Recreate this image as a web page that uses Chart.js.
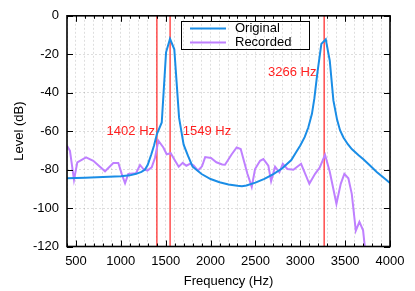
<!DOCTYPE html>
<html>
<head>
<meta charset="utf-8">
<script src="https://cdn.jsdelivr.net/npm/chart.js@4.4.1/dist/chart.umd.min.js"></script>
<style>
  html, body { margin: 0; padding: 0; background: #fff; }
</style>
</head>
<body>
<canvas id="levelChart" width="415" height="291"></canvas>
<script>
// Original spectrum
const origFreq = [400, 600, 800, 1000, 1100, 1170, 1230, 1270, 1300, 1340, 1370, 1402, 1456, 1504, 1548, 1596, 1649, 1700, 1750, 1800, 1900, 2000, 2100, 2200, 2300, 2350, 2400, 2500, 2600, 2700, 2800, 2900, 2960, 3000, 3050, 3090, 3130, 3157, 3190, 3235, 3284, 3329, 3369, 3410, 3443, 3481, 3530, 3574, 3650, 3703, 3780, 3852, 3930, 4000];
const origLevel = [-84.5, -84.2, -83.8, -83.4, -83, -82.2, -81.2, -80, -77.5, -72, -67.5, -61.5, -55.5, -19, -12, -17.4, -53, -67, -73, -78.5, -82.3, -84.9, -86.6, -87.7, -88.4, -88.6, -88.3, -86.8, -84.8, -82.3, -79.3, -75, -70.5, -67.5, -63, -58, -51, -43, -30, -14.6, -12.2, -23.4, -44, -54, -59.5, -63.3, -66.8, -69.3, -72.5, -74.6, -78, -81.2, -84.2, -87];

// Recorded spectrum
const recFreq = [400, 433, 478, 515, 612, 693, 824, 916, 972, 1010, 1047, 1083, 1169, 1214, 1251, 1296, 1344, 1380, 1418, 1474, 1511, 1556, 1600, 1645, 1690, 1730, 1770, 1810, 1860, 1905, 1940, 2005, 2065, 2130, 2161, 2236, 2291, 2336, 2410, 2459, 2496, 2552, 2589, 2644, 2675, 2719, 2767, 2805, 2856, 2923, 3009, 3101, 3165, 3216, 3276, 3328, 3403, 3451, 3491, 3536, 3574, 3619, 3659, 3700, 3728];
const recLevel = [-67.6, -70.2, -85.3, -76.2, -73.6, -75.4, -80.9, -76.6, -76.6, -82.2, -87.1, -82.2, -81.9, -77.6, -79.7, -80.5, -78.8, -74, -65, -68.5, -72, -71.5, -75, -78.5, -76.5, -78, -77, -77.8, -80.5, -78.3, -73.5, -74, -76.2, -77.3, -77.5, -72, -68.5, -69.3, -82, -89, -79.7, -75.4, -74.5, -77.9, -86, -78.5, -81.4, -77, -79.7, -80.1, -77, -87.4, -82.2, -79, -72.3, -81, -97.8, -87.4, -82.2, -84.5, -92.6, -111.8, -107.2, -111.6, -124];

// marker lines and their labels
const markerFreq = [1402, 1549, 3266];
const markerText = ["1402 Hz", "1549 Hz", "3266 Hz"];
const markerLabelX = [1381, 1690, 3180];
const markerLabelY = [-60, -60, -29.6];
const markerAlign = ["right", "left", "right"];

const fontFamily = "'Liberation Sans', Arial, sans-serif";
const tickFont = { family: fontFamily, size: 13 };

const markersPlugin = {
  id: 'markers',
  beforeDatasetsDraw(chart) {
    const { ctx, chartArea, scales } = chart;
    ctx.save();
    ctx.strokeStyle = '#ff2020';
    ctx.lineWidth = 1.2;
    markerFreq.forEach(f => {
      const x = scales.x.getPixelForValue(f);
      ctx.beginPath();
      ctx.moveTo(x, chartArea.top);
      ctx.lineTo(x, chartArea.bottom);
      ctx.stroke();
    });
    ctx.fillStyle = '#ff2020';
    ctx.font = '13px ' + fontFamily;
    ctx.textBaseline = 'middle';
    markerText.forEach((t, i) => {
      ctx.textAlign = markerAlign[i];
      ctx.fillText(t, scales.x.getPixelForValue(markerLabelX[i]), scales.y.getPixelForValue(markerLabelY[i]));
    });
    ctx.restore();
  },
  afterDraw(chart) {
    const { ctx, chartArea, scales } = chart;
    const { left, right, top, bottom } = chartArea;
    ctx.save();
    ctx.strokeStyle = '#000';
    ctx.lineWidth = 1;
    // inward ticks on all sides
    scales.x.ticks.forEach(t => {
      const x = Math.round(scales.x.getPixelForValue(t.value)) + 0.5;
      const len = t.value % 500 === 0 ? 6 : 3;
      ctx.beginPath();
      ctx.moveTo(x, bottom); ctx.lineTo(x, bottom - len);
      ctx.moveTo(x, top); ctx.lineTo(x, top + len);
      ctx.stroke();
    });
    scales.y.ticks.forEach(t => {
      const y = Math.round(scales.y.getPixelForValue(t.value)) + 0.5;
      ctx.beginPath();
      ctx.moveTo(left, y); ctx.lineTo(left + 6, y);
      ctx.moveTo(right, y); ctx.lineTo(right - 6, y);
      ctx.stroke();
    });
    // plot border
    ctx.lineWidth = 1.6;
    ctx.strokeRect(left, top, right - left, bottom - top);

    // legend box
    ctx.lineWidth = 1;
    ctx.strokeRect(181.5, 21.5, 128, 28);
    ctx.font = '13px ' + fontFamily;
    ctx.textBaseline = 'middle';
    ctx.textAlign = 'left';
    chart.data.datasets.forEach((ds, i) => {
      const y = 28.5 + i * 14;
      ctx.strokeStyle = ds.borderColor;
      ctx.lineWidth = 2;
      ctx.beginPath();
      ctx.moveTo(190, y); ctx.lineTo(226, y);
      ctx.stroke();
      ctx.fillStyle = '#000';
      ctx.fillText(ds.label, 235, y);
    });
    ctx.restore();
  }
};

new Chart(document.getElementById('levelChart'), {
  type: 'line',
  data: {
    datasets: [{
      label: 'Original',
      data: origFreq.map((f, i) => ({ x: f, y: origLevel[i] })),
      borderColor: '#1a8de6',
      borderWidth: 2,
      pointRadius: 0,
      tension: 0
    }, {
      label: 'Recorded',
      data: recFreq.map((f, i) => ({ x: f, y: recLevel[i] })),
      borderColor: '#bf80ff',
      borderWidth: 2,
      pointRadius: 0,
      tension: 0
    }]
  },
  options: {
    responsive: false,
    animation: false,
    layout: { padding: { top: 14, right: 25, left: 0, bottom: 0 } },
    plugins: { legend: { display: false }, tooltip: { enabled: false } },
    scales: {
      x: {
        type: 'linear',
        min: 400,
        max: 4000,
        afterFit: s => { s.height = 44.5; },
        ticks: {
          stepSize: 100,
          autoSkip: false,
          maxRotation: 0,
          padding: 7,
          color: '#000',
          font: tickFont,
          callback: v => (v % 500 === 0 ? String(v) : '')
        },
        grid: { color: 'rgba(0,0,0,0.13)', lineWidth: 1, drawTicks: false },
        border: { display: false, dash: [2, 2] },
        title: { display: true, text: 'Frequency (Hz)', color: '#000', font: tickFont, padding: { top: 0, bottom: 2 } }
      },
      y: {
        min: -120,
        max: 0,
        afterFit: s => { s.width = 67; },
        ticks: { stepSize: 20, padding: 8, color: '#000', font: tickFont },
        grid: { color: 'rgba(0,0,0,0.13)', lineWidth: 1, drawTicks: false },
        border: { display: false, dash: [2, 2] },
        title: { display: true, text: 'Level (dB)', color: '#000', font: tickFont, padding: { top: 12, bottom: 0 } }
      }
    }
  },
  plugins: [markersPlugin]
});
</script>
</body>
</html>
